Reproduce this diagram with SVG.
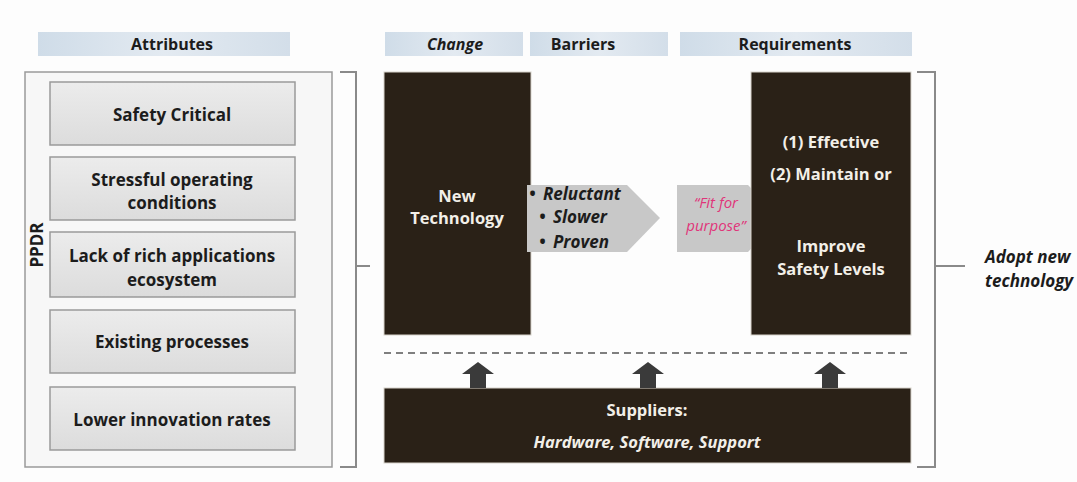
<svg xmlns="http://www.w3.org/2000/svg" width="1077" height="482" viewBox="0 0 1077 482">
<defs>
<linearGradient id="hdr" x1="0" y1="0" x2="1" y2="0">
<stop offset="0" stop-color="#cfdce8"/><stop offset="0.5" stop-color="#e3eaf1"/><stop offset="1" stop-color="#d3dee9"/>
</linearGradient>
<linearGradient id="gbox" x1="0" y1="0" x2="0" y2="1">
<stop offset="0" stop-color="#ececec"/><stop offset="1" stop-color="#dcdcdc"/>
</linearGradient>
<style>
text{font-family:"Open Sans",Lato,"Liberation Sans",sans-serif;font-weight:bold;text-anchor:middle}
.h{font-size:16px;fill:#1c1c1c}
.g{font-size:17px;fill:#1c1c1c}
.w{font-size:16.5px;fill:#f2efe8}
.it{font-style:italic}
.gb{fill:url(#gbox);stroke:#9a9a9a;stroke-width:1.5}
.dk{fill:#2a2117;stroke:#d8d4cc;stroke-width:1}
.br{fill:none;stroke:#8a8a8a;stroke-width:2}
.ua{fill:#3a3a3a}
</style>
</defs>
<rect width="1077" height="482" fill="#fdfdfd"/>

<g id="headers">
<rect x="38" y="32" width="252" height="24" fill="url(#hdr)"/>
<text class="h" x="172" y="50">Attributes</text>
<rect x="385" y="32" width="138" height="24" fill="url(#hdr)"/>
<text class="h it" x="455" y="50">Change</text>
<rect x="530" y="32" width="138" height="24" fill="url(#hdr)"/>
<text class="h" x="583" y="50">Barriers</text>
<rect x="680" y="32" width="232" height="24" fill="url(#hdr)"/>
<text class="h" x="795" y="50">Requirements</text>
</g>

<g id="ppdr">
<rect x="25" y="72" width="307" height="395" fill="#f7f7f7" stroke="#9a9a9a" stroke-width="1.5"/>
<text class="g" transform="translate(43,245) rotate(-90)" font-size="14">PPDR</text>
</g>
<g id="safety-critical">
<rect class="gb" x="50" y="82" width="245" height="63"/>
<text class="g" x="172" y="121">Safety Critical</text>
</g>
<g id="stressful">
<rect class="gb" x="50" y="157" width="245" height="63"/>
<text class="g" x="172" y="186">Stressful operating</text>
<text class="g" x="172" y="209">conditions</text>
</g>
<g id="lack">
<rect class="gb" x="50" y="232" width="245" height="65"/>
<text class="g" x="172" y="262">Lack of rich applications</text>
<text class="g" x="172" y="286">ecosystem</text>
</g>
<g id="existing">
<rect class="gb" x="50" y="310" width="245" height="63"/>
<text class="g" x="172" y="348">Existing processes</text>
</g>
<g id="lower">
<rect class="gb" x="50" y="387" width="245" height="63"/>
<text class="g" x="172" y="426">Lower innovation rates</text>
</g>

<g id="new-technology">
<rect class="dk" x="384" y="72" width="147" height="263"/>
<text class="w" x="457" y="202">New</text>
<text class="w" x="457" y="224">Technology</text>
</g>

<g id="barriers">
<polygon points="527,185 627,185 660,218 627,252 527,252" fill="#c8c8c8"/>
<text class="g it" style="text-anchor:start" font-size="15.5"><tspan x="529" y="200">•</tspan><tspan x="543" y="200">Reluctant</tspan></text>
<text class="g it" style="text-anchor:start" font-size="15.5"><tspan x="539" y="223">•</tspan><tspan x="553" y="223">Slower</tspan></text>
<text class="g it" style="text-anchor:start" font-size="15.5"><tspan x="539" y="248">•</tspan><tspan x="553" y="248">Proven</tspan></text>
</g>

<g id="fit-for-purpose">
<polygon points="677,185 748,185 780,218 748,252 677,252" fill="#c8c8c8"/>
<text class="it" x="716" y="208" font-size="15" fill="#e0357a" style="font-weight:normal">“Fit for</text>
<text class="it" x="716" y="231" font-size="15" fill="#e0357a" style="font-weight:normal">purpose”</text>
</g>

<g id="requirements">
<rect class="dk" x="751" y="72" width="160" height="263"/>
<text class="w" x="831" y="148">(1) Effective</text>
<text class="w" x="831" y="180">(2) Maintain or</text>
<text class="w" x="831" y="252">Improve</text>
<text class="w" x="831" y="275">Safety Levels</text>
</g>

<g id="suppliers">
<rect class="dk" x="384" y="388" width="527" height="75"/>
<text class="w" x="647" y="416">Suppliers:</text>
<text class="w it" x="647" y="448">Hardware, Software, Support</text>
</g>

<g id="adopt">
<text class="g it" x="985" y="263" style="text-anchor:start">Adopt new</text>
<text class="g it" x="985" y="287" style="text-anchor:start">technology</text>
</g>

<g id="connectors">
<path class="br" d="M340,72 H356 V266 H370 M356,266 V467 H340"/>
<path class="br" d="M917,72 H935 V266 H965 M935,266 V467 H917"/>
<line x1="384" y1="353" x2="911" y2="353" stroke="#555" stroke-width="1.5" stroke-dasharray="7,5"/>
<polygon class="ua" points="478,362 494,374 486,374 486,388 470,388 470,374 462,374"/>
<polygon class="ua" points="648,362 664,374 656,374 656,388 640,388 640,374 632,374"/>
<polygon class="ua" points="830,362 846,374 838,374 838,388 822,388 822,374 814,374"/>
</g>
</svg>
